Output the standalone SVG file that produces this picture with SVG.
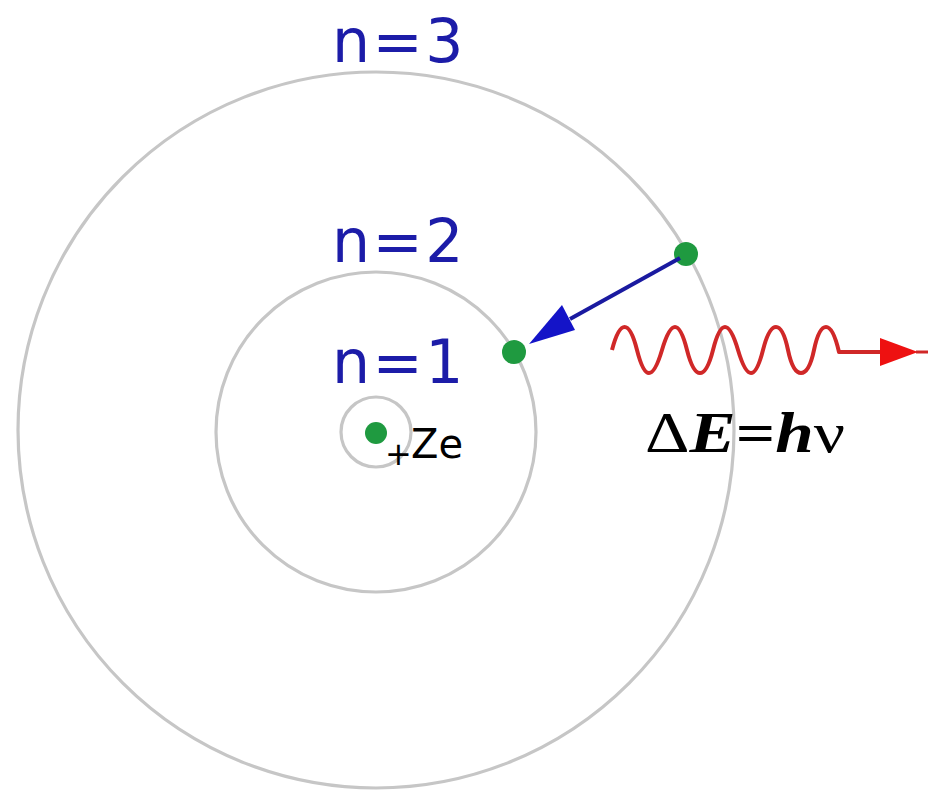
<svg xmlns="http://www.w3.org/2000/svg" width="930" height="794" viewBox="0 0 930 794">
<style>
.orbit{fill:none;stroke:#c6c6c6;stroke-width:3.2}
.dot{fill:#1f9a40}
.lbl{font-family:"DejaVu Sans",sans-serif;font-size:60px;fill:#1c1ca8;letter-spacing:2.5px}
</style>
<rect width="930" height="794" fill="#ffffff"/>
<g id="orbit3"><circle class="orbit" cx="376" cy="430" r="358"/><text class="lbl" x="332" y="62">n=3</text></g>
<g id="orbit2"><circle class="orbit" cx="376" cy="432" r="160"/><text class="lbl" x="332" y="262">n=2</text></g>
<g id="orbit1"><circle class="orbit" cx="376" cy="432" r="35"/><text class="lbl" x="332" y="383">n=1</text></g>
<g id="nucleus"><circle class="dot" cx="376" cy="433" r="11"/><text font-family="DejaVu Sans,sans-serif" fill="#000"><tspan x="385" y="465" font-size="32">+</tspan><tspan x="411" y="458" font-size="40">Ze</tspan></text></g>
<g id="e-outer"><circle class="dot" cx="686" cy="254" r="12"/></g>
<g id="e-inner"><circle class="dot" cx="514" cy="352" r="12"/></g>
<g id="connectors">
<line x1="680" y1="258" x2="570" y2="319" stroke="#1a1aa0" stroke-width="4"/>
<path d="M529,344 L562,305 L575,330 Z" fill="#1414c8"/>
<path id="wave" fill="none" stroke="#d02828" stroke-width="4" stroke-linejoin="round" d="M612,350 Q618,327 624.6,327 T637,350 T649,373 T662,350 T675,327 T687,350 T700,373 T713,350 T725,327 T738,350 T751,373 T763,350 T776,327 T788,350 T801,373 T814,350 T826,327 T839,352 L884,352"/>
<path d="M880,338 L918,352 L880,366 Z" fill="#ee1111"/>
<line x1="916" y1="352" x2="928" y2="352" stroke="#d02828" stroke-width="3"/>
</g>
<g id="formula"><text x="645" y="452" font-family="Liberation Serif,serif" font-size="56" fill="#000" textLength="200" lengthAdjust="spacingAndGlyphs">Δ<tspan font-style="italic" font-weight="bold">E</tspan><tspan font-weight="bold">=</tspan><tspan font-style="italic" font-weight="bold">h</tspan>ν</text></g>
</svg>
